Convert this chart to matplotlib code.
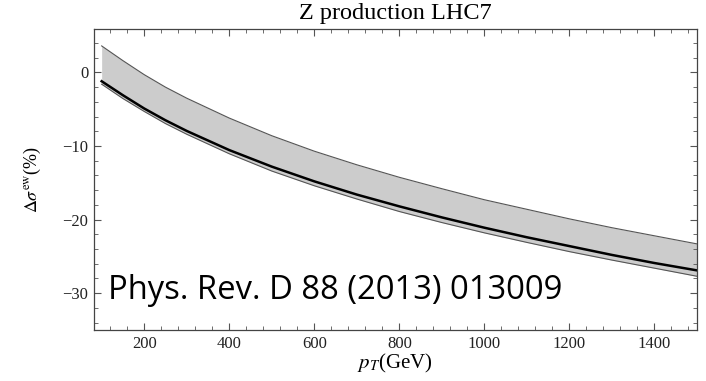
import numpy as np
import matplotlib
matplotlib.use('Agg')
import matplotlib.pyplot as plt
from matplotlib.ticker import MultipleLocator

plt.rcParams['mathtext.fontset'] = 'stix'
plt.rcParams['font.family'] = ['Liberation Serif', 'DejaVu Serif']

# values
pt = [100, 150, 200, 250, 300, 400, 500, 600, 700, 800, 900, 1000, 1100, 1200, 1300, 1400, 1500]
upper = [3.6, 1.6, -0.3, -2.0, -3.5, -6.2, -8.6, -10.7, -12.55, -14.25, -15.8, -17.3, -18.6, -19.9, -21.1, -22.2, -23.3]
central = [-1.2, -3.1, -4.9, -6.5, -7.95, -10.55, -12.8, -14.8, -16.6, -18.2, -19.7, -21.1, -22.4, -23.6, -24.8, -25.9, -26.9]
lower = [-1.6, -3.55, -5.3, -6.95, -8.4, -11.05, -13.4, -15.4, -17.2, -18.9, -20.4, -21.8, -23.1, -24.35, -25.5, -26.6, -27.7]

title = 'Z production LHC7'
ref_text = 'Phys. Rev. D 88 (2013) 013009'

W, H = 706, 381
fig = plt.figure(figsize=(W / 100, H / 100), dpi=100)
ax = fig.add_axes([94 / W, 1 - 330 / H, (697 - 94) / W, (330 - 29) / H])

ax.fill_between(pt, lower, upper, color='#cccccc', lw=0)
ax.plot(pt, upper, color='#555555', lw=0.8)
ax.plot(pt, lower, color='#555555', lw=0.8)
ax.plot(pt, central, color='black', lw=1.8)

ax.set_xlim(82, 1500)
ax.set_ylim(-35, 5.9)
ax.xaxis.set_major_locator(MultipleLocator(200))
ax.xaxis.set_minor_locator(MultipleLocator(40))
ax.yaxis.set_major_locator(MultipleLocator(10))
ax.yaxis.set_minor_locator(MultipleLocator(2))
ax.tick_params(which='both', direction='in', top=True, right=True,
               color='#555555', labelsize=12, labelcolor='#222222', pad=4)
ax.tick_params(which='major', length=5, width=0.8)
ax.tick_params(which='minor', length=3, width=0.6)
for s in ax.spines.values():
    s.set_color('#444444')
    s.set_linewidth(0.9)

fig.text((94 + 697) / 2 / W, 1 - 13 / H, title, ha='center', va='center', fontsize=17.5)
fig.text(395 / W, 1 - 363 / H, r'$p_T$(GeV)', ha='center', va='center', fontsize=15)
fig.text(32 / W, 1 - 180 / H, r'$\Delta\sigma^{\mathrm{ew}}$(%)', ha='center', va='center',
         rotation=90, fontsize=13)

fig.text(108 / W, 1 - 299 / H, ref_text, ha='left', va='baseline', fontsize=23.6,
         family=['Open Sans', 'DejaVu Sans'], color='black')

fig.savefig('out.png', dpi=100)
